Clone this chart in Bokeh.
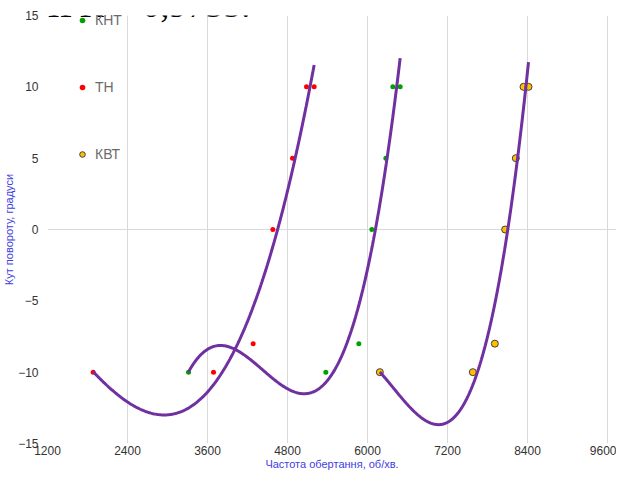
import numpy as np
from bokeh.plotting import figure
from bokeh.models import FixedTicker, Legend, LegendItem, Label, Range1d
from bokeh.embed import file_html
from bokeh.resources import INLINE
from bokeh.core.properties import value

# ---- data ----
angle = [-10, -10, -8, 0, 5, 10, 10]
th_rpm = [1885, 3690, 4285, 4580, 4875, 5085, 5200]
knt_rpm = [3315, 5375, 5870, 6065, 6275, 6380, 6490]
kvt_rpm = [6185, 7580, 7910, 8065, 8225, 8340, 8415]
series_names = ["КНТ", "ТН", "КВТ"]
x_ticks = [1200, 2400, 3600, 4800, 6000, 7200, 8400, 9600]
y_ticks = [-15, -10, -5, 0, 5, 10, 15]
trend_order = 3
top_text = "ЯРК = 0,9755."

FONT = "Liberation Sans"

p = figure(width=616, height=472, output_backend="svg", toolbar_location=None,
           x_range=Range1d(1200, 9735), y_range=Range1d(-15, 15),
           min_border_left=39, min_border_right=0, min_border_top=15, min_border_bottom=0,
           background_fill_color="white", border_fill_color="white", outline_line_color=None)

# grids
p.xgrid.ticker = FixedTicker(ticks=x_ticks)
p.xgrid.grid_line_color = "#d9d9d9"
p.ygrid.ticker = FixedTicker(ticks=[0])
p.ygrid.grid_line_color = "#d9d9d9"

for ax in (p.xaxis, p.yaxis):
    ax.axis_line_color = None
    ax.major_tick_line_color = None
    ax.minor_tick_line_color = None
    ax.major_tick_out = 0
    ax.major_tick_in = 0
    ax.major_label_text_font = FONT
    ax.major_label_text_font_size = "12px"
    ax.major_label_text_color = "#333333"
    ax.axis_label_text_font = FONT
    ax.axis_label_text_font_style = "normal"
    ax.axis_label_text_color = "#4040E0"
    ax.axis_label_text_font_size = "11px"

p.xaxis.ticker = FixedTicker(ticks=x_ticks)
p.yaxis.ticker = FixedTicker(ticks=y_ticks)
p.xaxis.major_label_standoff = 2
p.xaxis.axis_label_standoff = 0
p.yaxis.major_label_standoff = 9
p.yaxis.axis_label_standoff = 0
p.xaxis.axis_label = "Частота обертання, об/хв."
p.yaxis.axis_label = "Кут повороту, градуси"

# scatter series
r_knt = p.scatter(knt_rpm, angle, size=5, fill_color="#00A000", line_color=None)
r_th = p.scatter(th_rpm, angle, size=5, fill_color="#FF0000", line_color=None)
r_kvt = p.scatter(kvt_rpm, angle, size=7, fill_color="#FFC000", line_color="#404040", line_width=1)

# polynomial trend lines (as in the spreadsheet)
for xs in (th_rpm, knt_rpm, kvt_rpm):
    xa = np.array(xs, dtype=float)
    coef = np.polyfit(xa, np.array(angle, dtype=float), trend_order)
    xx = np.linspace(xa.min(), xa.max(), 200)
    p.line(xx, np.polyval(coef, xx), line_color="#7030A0", line_width=3)

legend = Legend(items=[LegendItem(label=series_names[0], renderers=[r_knt]),
                       LegendItem(label=series_names[1], renderers=[r_th]),
                       LegendItem(label=series_names[2], renderers=[r_kvt])],
                location=(28, 281), orientation="vertical",
                glyph_width=14, glyph_height=14, label_height=14, spacing=51,
                padding=0, margin=0, label_standoff=6,
                background_fill_alpha=0, border_line_color=None,
                label_text_font=FONT, label_text_font_size="14px", label_text_color="#6b6b6b")
p.add_layout(legend)

p.add_layout(Label(x=1025, y=15.72, text=top_text, text_baseline="alphabetic",
                   text_font="Liberation Serif", text_font_size="36px", text_color="black"))

open("out.html", "w").write(file_html(p, INLINE))
